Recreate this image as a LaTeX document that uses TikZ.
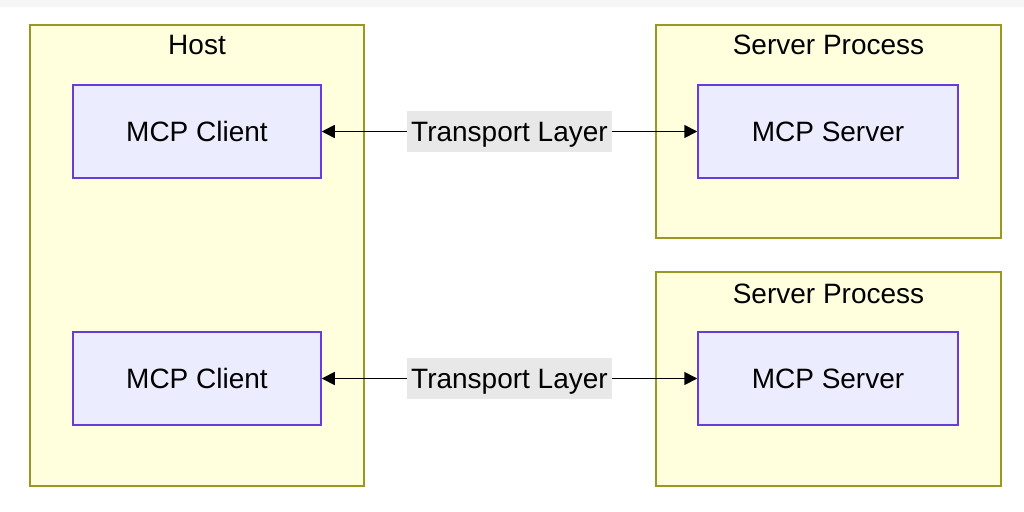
\documentclass[tikz,border=0pt]{standalone}
\usepackage{fontspec}
\setmainfont{Liberation Sans}
\usetikzlibrary{arrows.meta}
\definecolor{clfill}{HTML}{FFFFDE}
\definecolor{cldraw}{HTML}{999922}
\definecolor{ndfill}{HTML}{ECECFF}
\definecolor{nddraw}{HTML}{6A3BDC}
\definecolor{lblbg}{HTML}{E8E8E8}
\definecolor{strip}{HTML}{F6F6F6}
\tikzset{
  cluster/.style={draw=cldraw, fill=clfill, line width=1.6pt},
  mcpnode/.style={draw=nddraw, fill=ndfill, line width=1.5pt, minimum width=248pt, minimum height=93pt, inner sep=0pt, text height=20pt, text depth=0pt, font=\fontsize{28}{32}\selectfont},
  srvnode/.style={mcpnode, minimum width=260pt},
  ctitle/.style={font=\fontsize{28}{32}\selectfont, inner sep=0pt, text height=20pt, text depth=0pt},
  elabel/.style={fill=lblbg, font=\fontsize{28}{32}\selectfont, inner sep=0pt, minimum width=205pt, minimum height=41pt, text height=20pt, text depth=0pt},
  conn/.style={line width=1.7pt, -{Triangle[length=13pt,width=13pt]}}
}
\begin{document}
\begin{tikzpicture}[x=1pt,y=-1pt]
\useasboundingbox (0,0) rectangle (1024,511);
\fill[white] (0,0) rectangle (1024,511);
\fill[strip] (0,0) rectangle (1024,7);
% clusters
\draw[cluster] (30,25) rectangle (364,486);
\draw[cluster] (656,25) rectangle (1001,238);
\draw[cluster] (656,272) rectangle (1001,486);
\node[ctitle] (host) at (197,45) {Host};
\node[ctitle] (sp1) at (828.5,45) {Server Process};
\node[ctitle] (sp2) at (828.5,293) {Server Process};
% nodes
\node[mcpnode] (c1) at (197,131.5) {MCP Client};
\node[mcpnode] (c2) at (197,378.5) {MCP Client};
\node[srvnode] (s1) at (828,131.5) {MCP Server};
\node[srvnode] (s2) at (828,378.5) {MCP Server};
% edge labels
\node[elabel] (t1) at (509.5,131.5) {Transport Layer};
\node[elabel] (t2) at (509.5,378.5) {Transport Layer};
% connectors
\draw[conn] (t1.west) -- (c1.east);
\draw[conn] (t1.east) -- (s1.west);
\draw[conn] (t2.west) -- (c2.east);
\draw[conn] (t2.east) -- (s2.west);
\end{tikzpicture}
\end{document}
